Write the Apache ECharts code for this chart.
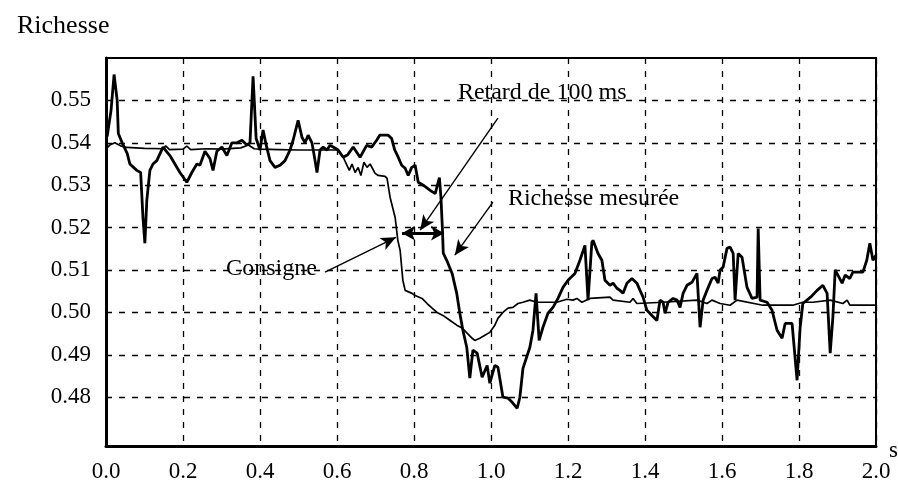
<!DOCTYPE html>
<html>
<head>
<meta charset="utf-8">
<script src="https://cdn.jsdelivr.net/npm/echarts@6/dist/echarts.min.js"></script>
<style>
  html, body { margin: 0; padding: 0; background: #fff; }
  #chart { width: 898px; height: 491px; }
</style>
</head>
<body>
<div id="chart"></div>
<script>
// Richesse mesurée (noisy, thick trace): time in s, richness value
const mesureT = [0.003, 0.013, 0.021, 0.029, 0.032, 0.042, 0.055, 0.062, 0.080, 0.090, 0.096, 0.101, 0.106, 0.114, 0.122, 0.132, 0.148, 0.166, 0.179, 0.192, 0.210, 0.223, 0.236, 0.244, 0.257, 0.270, 0.278, 0.288, 0.301, 0.314, 0.327, 0.340, 0.353, 0.366, 0.374, 0.382, 0.390, 0.400, 0.408, 0.416, 0.426, 0.439, 0.452, 0.465, 0.478, 0.486, 0.499, 0.509, 0.517, 0.525, 0.535, 0.543, 0.548, 0.556, 0.564, 0.574, 0.582, 0.590, 0.603, 0.616, 0.628, 0.642, 0.660, 0.677, 0.690, 0.703, 0.711, 0.733, 0.742, 0.750, 0.759, 0.768, 0.777, 0.785, 0.794, 0.803, 0.811, 0.824, 0.842, 0.855, 0.866, 0.870, 0.874, 0.876, 0.885, 0.899, 0.911, 0.919, 0.927, 0.937, 0.945, 0.953, 0.964, 0.977, 0.990, 0.997, 1.010, 1.018, 1.031, 1.044, 1.055, 1.068, 1.075, 1.083, 1.101, 1.109, 1.117, 1.125, 1.135, 1.148, 1.161, 1.174, 1.187, 1.200, 1.218, 1.231, 1.244, 1.252, 1.262, 1.265, 1.278, 1.288, 1.296, 1.309, 1.317, 1.327, 1.335, 1.343, 1.353, 1.366, 1.379, 1.387, 1.395, 1.405, 1.418, 1.431, 1.439, 1.447, 1.452, 1.460, 1.473, 1.483, 1.491, 1.499, 1.509, 1.522, 1.535, 1.543, 1.551, 1.561, 1.574, 1.582, 1.590, 1.595, 1.603, 1.613, 1.621, 1.629, 1.634, 1.642, 1.652, 1.665, 1.678, 1.691, 1.694, 1.699, 1.717, 1.730, 1.743, 1.756, 1.764, 1.782, 1.795, 1.803, 1.810, 1.830, 1.847, 1.862, 1.873, 1.881, 1.888, 1.894, 1.901, 1.912, 1.920, 1.932, 1.940, 1.966, 1.976, 1.984, 1.992, 2.000];
const mesureV = [0.5415, 0.5476, 0.5561, 0.5500, 0.5422, 0.5400, 0.5375, 0.5350, 0.5335, 0.5330, 0.5224, 0.5163, 0.5264, 0.5335, 0.5350, 0.5358, 0.5390, 0.5370, 0.5350, 0.5330, 0.5307, 0.5330, 0.5350, 0.5347, 0.5380, 0.5363, 0.5335, 0.5380, 0.5390, 0.5370, 0.5400, 0.5400, 0.5406, 0.5395, 0.5400, 0.5557, 0.5410, 0.5383, 0.5430, 0.5395, 0.5358, 0.5342, 0.5347, 0.5358, 0.5383, 0.5406, 0.5453, 0.5413, 0.5400, 0.5418, 0.5400, 0.5358, 0.5330, 0.5383, 0.5390, 0.5383, 0.5394, 0.5390, 0.5383, 0.5366, 0.5372, 0.5390, 0.5366, 0.5394, 0.5390, 0.5406, 0.5418, 0.5418, 0.5410, 0.5383, 0.5366, 0.5347, 0.5340, 0.5323, 0.5342, 0.5347, 0.5307, 0.5300, 0.5288, 0.5280, 0.5318, 0.5271, 0.5193, 0.5140, 0.5123, 0.5092, 0.5045, 0.4998, 0.4958, 0.4918, 0.4845, 0.4911, 0.4904, 0.4847, 0.4875, 0.4833, 0.4875, 0.4871, 0.4800, 0.4798, 0.4788, 0.4774, 0.4800, 0.4868, 0.4918, 0.4958, 0.5045, 0.4934, 0.4965, 0.4998, 0.5012, 0.5033, 0.5059, 0.5076, 0.5092, 0.5123, 0.5158, 0.5029, 0.5165, 0.5170, 0.5139, 0.5123, 0.5076, 0.5064, 0.5069, 0.5057, 0.5052, 0.5045, 0.5069, 0.5080, 0.5069, 0.5052, 0.5036, 0.5005, 0.4993, 0.4981, 0.5029, 0.5024, 0.4998, 0.5024, 0.5033, 0.5029, 0.5012, 0.5045, 0.5064, 0.5071, 0.5092, 0.4965, 0.5029, 0.5052, 0.5080, 0.5083, 0.5069, 0.5100, 0.5107, 0.5151, 0.5154, 0.5139, 0.5029, 0.5139, 0.5130, 0.5059, 0.5033, 0.5036, 0.5198, 0.5029, 0.5024, 0.5005, 0.4958, 0.4939, 0.4974, 0.4974, 0.4840, 0.4965, 0.5021, 0.5036, 0.5052, 0.5064, 0.5045, 0.4904, 0.4989, 0.5100, 0.5088, 0.5069, 0.5088, 0.5080, 0.5095, 0.5095, 0.5123, 0.5163, 0.5123, 0.5135];

// Consigne (setpoint, thin trace)
const consigneT = [0.000, 0.010, 0.023, 0.040, 0.054, 0.100, 0.150, 0.155, 0.165, 0.200, 0.210, 0.220, 0.260, 0.300, 0.350, 0.370, 0.385, 0.400, 0.450, 0.500, 0.550, 0.603, 0.616, 0.626, 0.632, 0.639, 0.647, 0.655, 0.662, 0.670, 0.678, 0.686, 0.699, 0.707, 0.725, 0.730, 0.738, 0.751, 0.758, 0.764, 0.771, 0.777, 0.795, 0.803, 0.821, 0.834, 0.847, 0.860, 0.875, 0.894, 0.911, 0.925, 0.938, 0.951, 0.958, 0.971, 0.984, 0.997, 1.010, 1.018, 1.031, 1.044, 1.057, 1.070, 1.083, 1.101, 1.119, 1.171, 1.197, 1.213, 1.223, 1.236, 1.257, 1.309, 1.317, 1.361, 1.369, 1.379, 1.447, 1.535, 1.561, 1.574, 1.595, 1.621, 1.639, 1.706, 1.784, 1.810, 1.836, 1.881, 1.914, 1.925, 1.932, 2.000];
const consigneV = [0.5385, 0.5395, 0.5400, 0.5392, 0.5389, 0.5387, 0.5386, 0.5393, 0.5384, 0.5385, 0.5392, 0.5384, 0.5386, 0.5385, 0.5388, 0.5395, 0.5386, 0.5385, 0.5384, 0.5383, 0.5383, 0.5383, 0.5366, 0.5347, 0.5335, 0.5350, 0.5330, 0.5342, 0.5323, 0.5354, 0.5342, 0.5350, 0.5328, 0.5323, 0.5321, 0.5316, 0.5271, 0.5224, 0.5170, 0.5146, 0.5076, 0.5052, 0.5045, 0.5040, 0.5033, 0.5021, 0.5010, 0.5000, 0.4993, 0.4981, 0.4970, 0.4963, 0.4951, 0.4939, 0.4934, 0.4939, 0.4946, 0.4953, 0.4970, 0.4986, 0.5000, 0.5010, 0.5012, 0.5021, 0.5024, 0.5029, 0.5024, 0.5024, 0.5031, 0.5029, 0.5033, 0.5024, 0.5033, 0.5036, 0.5029, 0.5024, 0.5033, 0.5021, 0.5024, 0.5029, 0.5021, 0.5029, 0.5021, 0.5017, 0.5029, 0.5017, 0.5017, 0.5024, 0.5024, 0.5029, 0.5021, 0.5029, 0.5017, 0.5017];

// Axis tick labels
const xTicks = [0.0, 0.2, 0.4, 0.6, 0.8, 1.0, 1.2, 1.4, 1.6, 1.8, 2.0];
const yTicks = [0.48, 0.49, 0.50, 0.51, 0.52, 0.53, 0.54, 0.55];

// Annotation arrows [[t0, v0], [t1, v1]] and labels
const retardArrow = [[1.018, 0.5458], [0.816, 0.5194]];
const delaySpan = [[0.769, 0.5187], [0.878, 0.5187]];
const mesureArrow = [[1.005, 0.5260], [0.906, 0.5135]];
const consigneArrow = [[0.569, 0.5095], [0.753, 0.5177]];
const notes = [
  { text: 'Retard de 100 ms', at: [0.914, 0.5517] },
  { text: 'Richesse mesurée', at: [1.044, 0.5269] },
  { text: 'Consigne', at: [0.312, 0.5102] }
];
const xUnit = 's';

const zip = (ts, vs) => ts.map((t, i) => [t, vs[i]]);
const FONT = 'Liberation Serif';
const Y_MIN = 0.4685;
const gridDash = { color: '#000', width: 1.3, type: [6, 7] };

const chart = echarts.init(document.getElementById('chart'), null, { renderer: 'canvas' });

const solid = w => ({ color: '#000', width: w, type: 'solid' });

chart.setOption({
  animation: false,
  backgroundColor: '#fff',
  textStyle: { fontFamily: FONT, color: '#000' },
  title: {
    text: 'Richesse',
    left: 12,
    top: 8,
    textStyle: { fontFamily: FONT, fontSize: 26, fontWeight: 'normal', color: '#000' }
  },
  grid: {
    left: 106, right: 22, top: 58, bottom: 45,
    outerBoundsMode: 'none',
    containLabel: false,
    show: true, borderColor: '#000', borderWidth: 2, backgroundColor: 'transparent'
  },
  xAxis: {
    type: 'value',
    min: 0, max: 2, interval: 0.2,
    axisLine: { show: true, onZero: false, lineStyle: { color: '#000', width: 3 } },
    axisTick: { show: false },
    axisLabel: {
      fontFamily: FONT, fontSize: 23, color: '#000', margin: 14,
      customValues: xTicks,
      formatter: v => v.toFixed(1)
    },
    splitLine: { show: true, lineStyle: gridDash }
  },
  yAxis: {
    type: 'value',
    min: Y_MIN, max: 0.56,
    axisLine: { show: true, onZero: false, lineStyle: { color: '#000', width: 3 } },
    axisTick: { show: false, customValues: yTicks },
    axisLabel: {
      fontFamily: FONT, fontSize: 23, color: '#000', margin: 15,
      customValues: yTicks,
      formatter: v => v.toFixed(2)
    },
    splitLine: { show: true, lineStyle: gridDash }
  },
  series: [
    {
      name: 'Consigne',
      type: 'line',
      data: zip(consigneT, consigneV),
      showSymbol: false,
      lineStyle: { color: '#000', width: 1.7 },
      z: 3
    },
    {
      name: 'Richesse mesurée',
      type: 'line',
      data: zip(mesureT, mesureV),
      showSymbol: false,
      lineStyle: { color: '#000', width: 2.8 },
      z: 4
    },
    {
      name: 'annotations',
      type: 'line',
      data: [],
      z: 5,
      markLine: {
        silent: true,
        animation: false,
        label: { show: false },
        data: [
          [{ coord: retardArrow[0], symbol: 'none', lineStyle: solid(1.4) },
           { coord: retardArrow[1], symbol: 'arrow', symbolSize: [10, 15] }],
          [{ coord: mesureArrow[0], symbol: 'none', lineStyle: solid(1.4) },
           { coord: mesureArrow[1], symbol: 'arrow', symbolSize: [10, 15] }],
          [{ coord: consigneArrow[0], symbol: 'none', lineStyle: solid(1.4) },
           { coord: consigneArrow[1], symbol: 'arrow', symbolSize: [10, 15] }],
          [{ coord: delaySpan[0], symbol: 'arrow', symbolSize: [11, 13], lineStyle: solid(3) },
           { coord: delaySpan[1], symbol: 'arrow', symbolSize: [11, 13] }]
        ]
      }
    }
  ]
});

// Annotation texts at their data positions, plus the time unit after the axis end
const textEl = (text, p, size, align) => ({
  type: 'text',
  x: p[0], y: p[1],
  silent: true,
  z: 10,
  style: {
    text: text,
    font: size + 'px "' + FONT + '"',
    fill: '#000',
    textAlign: align,
    textVerticalAlign: 'middle'
  }
});
const axisEnd = chart.convertToPixel({ gridIndex: 0 }, [2, Y_MIN]);
chart.setOption({
  graphic: notes.map(n => textEl(n.text, chart.convertToPixel({ gridIndex: 0 }, n.at), 24, 'left'))
    .concat([textEl(xUnit, [axisEnd[0] + 13, axisEnd[1] + 5], 23, 'left')])
});
</script>
</body>
</html>
